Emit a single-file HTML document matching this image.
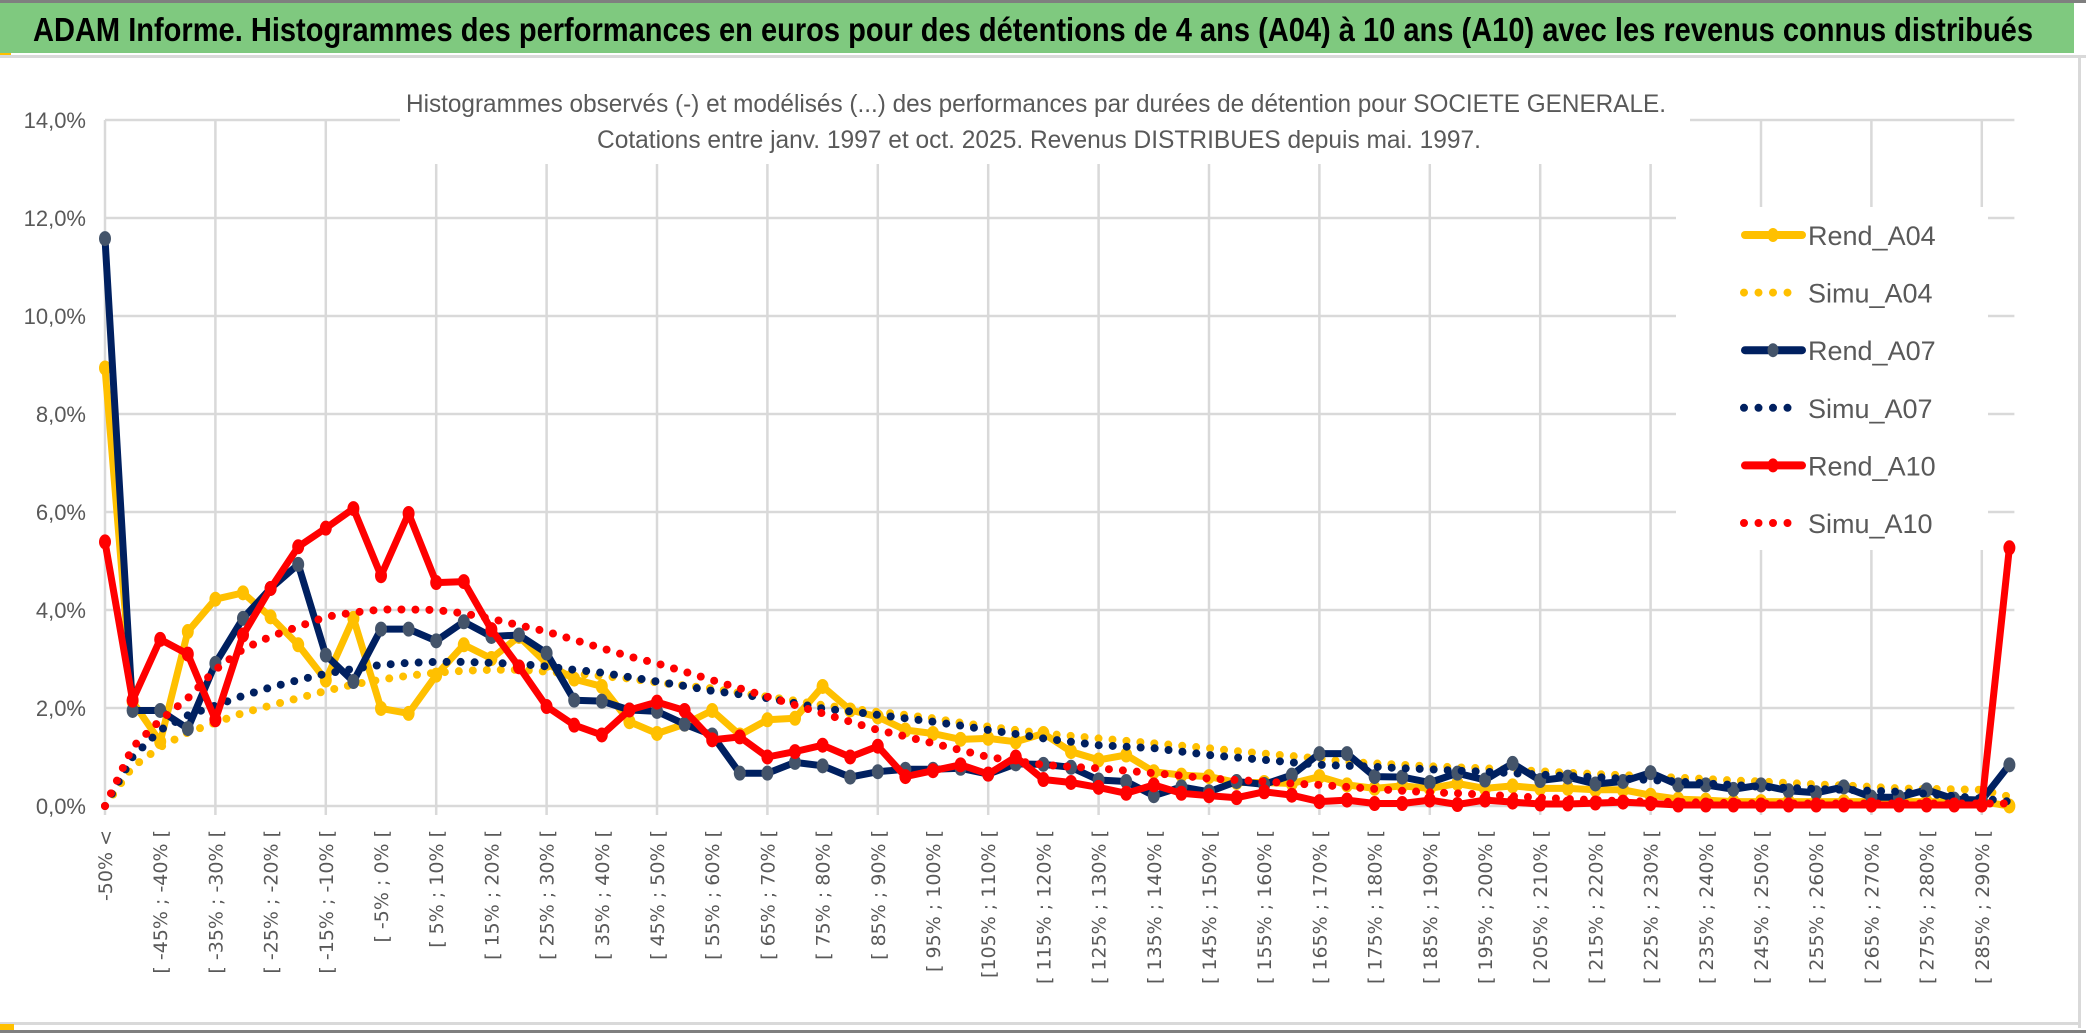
<!DOCTYPE html>
<html><head><meta charset="utf-8"><style>
html,body{margin:0;padding:0;background:#fff;}
svg{display:block;}
</style></head><body>
<svg id="chart" width="2086" height="1033" viewBox="0 0 2086 1033" xmlns="http://www.w3.org/2000/svg">
  <rect x="0" y="0" width="2086" height="1033" fill="#fff"/>
  <rect x="0" y="0" width="2086" height="3" fill="#7f7f7f"/>
  <rect x="0" y="3" width="2074" height="50" fill="#7fc97f"/>
  <rect x="0" y="53" width="11" height="4" fill="#ffc000"/>
  <rect x="0" y="55" width="2086" height="3" fill="#d9d9d9"/>
  <rect x="2078" y="58" width="3" height="970" fill="#d9d9d9"/>
  <text x="33" y="41" font-family="'Liberation Sans', sans-serif" font-weight="bold" font-size="33" textLength="2000" lengthAdjust="spacingAndGlyphs" fill="#000">ADAM Informe. Histogrammes des performances en euros pour des détentions de 4 ans (A04) à 10 ans (A10) avec les revenus connus distribués</text>
  <g id="grid"></g>
  <rect x="400" y="82" width="1290" height="82" fill="#fff"/>
  <text x="1036" y="112" text-anchor="middle" font-family="'Liberation Sans', sans-serif" font-size="25" textLength="1260" lengthAdjust="spacingAndGlyphs" fill="#595959">Histogrammes observés (-) et modélisés (...) des performances par durées de détention pour SOCIETE GENERALE.</text>
  <text x="1039" y="148" text-anchor="middle" font-family="'Liberation Sans', sans-serif" font-size="25" textLength="884" lengthAdjust="spacingAndGlyphs" fill="#595959">Cotations entre janv. 1997 et oct. 2025. Revenus DISTRIBUES depuis mai. 1997.</text>
  <g id="yaxis"></g>
  <g id="xaxis"></g>
  <g id="series"></g>
  <g id="legend">
    <rect x="1676" y="207" width="312" height="343" fill="#fff"/>
  </g>
  <rect x="0" y="1022" width="2080" height="3" fill="#d9d9d9"/>
  <rect x="0" y="1024" width="14" height="6" fill="#ffc000"/>
  <rect x="0" y="1030" width="2086" height="3" fill="#7f7f7f"/>
</svg>
<script>
const categories = ["-50% <","[ -50% ; -45% [","[ -45% ; -40% [","[ -40% ; -35% [","[ -35% ; -30% [","[ -30% ; -25% [","[ -25% ; -20% [","[ -20% ; -15% [","[ -15% ; -10% [","[ -10% ; -5% [",
"[ -5% ; 0% [","[ 0% ; 5% [","[ 5% ; 10% [","[ 10% ; 15% [","[ 15% ; 20% [","[ 20% ; 25% [","[ 25% ; 30% [","[ 30% ; 35% [","[ 35% ; 40% [","[ 40% ; 45% [",
"[ 45% ; 50% [","[ 50% ; 55% [","[ 55% ; 60% [","[ 60% ; 65% [","[ 65% ; 70% [","[ 70% ; 75% [","[ 75% ; 80% [","[ 80% ; 85% [","[ 85% ; 90% [","[ 90% ; 95% [",
"[ 95% ; 100% [","[ 100% ; 105% [","[105% ; 110% [","[ 110% ; 115% [","[ 115% ; 120% [","[ 120% ; 125% [","[ 125% ; 130% [","[ 130% ; 135% [","[ 135% ; 140% [","[ 140% ; 145% [",
"[ 145% ; 150% [","[ 150% ; 155% [","[ 155% ; 160% [","[ 160% ; 165% [","[ 165% ; 170% [","[ 170% ; 175% [","[ 175% ; 180% [","[ 180% ; 185% [","[ 185% ; 190% [","[ 190% ; 195% [",
"[ 195% ; 200% [","[ 200% ; 205% [","[ 205% ; 210% [","[ 210% ; 215% [","[ 215% ; 220% [","[ 220% ; 225% [","[ 225% ; 230% [","[ 230% ; 235% [","[ 235% ; 240% [","[ 240% ; 245% [",
"[ 245% ; 250% [","[ 250% ; 255% [","[ 255% ; 260% [","[ 260% ; 265% [","[ 265% ; 270% [","[ 270% ; 275% [","[ 275% ; 280% [","[ 280% ; 285% [","[ 285% ; 290% [","290% >"];
const yTicks = [0,2,4,6,8,10,12,14];
const yTickLabels = ["0,0%","2,0%","4,0%","6,0%","8,0%","10,0%","12,0%","14,0%"];
const rendA04 = [8.94,2.13,1.31,3.56,4.22,4.35,3.86,3.29,2.57,3.83,1.99,1.89,2.67,3.29,3.01,3.46,2.91,2.59,2.44,1.72,1.48,1.67,1.95,1.45,1.76,1.79,2.44,1.96,1.82,1.55,1.48,1.36,1.38,1.31,1.48,1.11,0.94,1.04,0.7,0.63,0.6,0.48,0.48,0.46,0.6,0.43,0.36,0.41,0.36,0.46,0.36,0.41,0.36,0.36,0.33,0.33,0.22,0.14,0.12,0.09,0.09,0.09,0.09,0.09,0.09,0.09,0.09,0.09,0.09,0.0];
const simuA04 = [0,0.8,1.2,1.5,1.7,1.9,2.05,2.2,2.35,2.48,2.58,2.66,2.72,2.76,2.78,2.78,2.74,2.7,2.65,2.6,2.52,2.46,2.4,2.31,2.23,2.15,2.06,1.99,1.92,1.86,1.79,1.7,1.62,1.55,1.48,1.43,1.38,1.33,1.28,1.23,1.18,1.12,1.07,1.02,0.97,0.9,0.87,0.84,0.81,0.79,0.77,0.74,0.71,0.68,0.65,0.63,0.6,0.58,0.55,0.52,0.5,0.47,0.44,0.42,0.39,0.36,0.35,0.34,0.33,0.19];
const rendA07 = [11.58,1.95,1.95,1.58,2.91,3.83,4.44,4.93,3.08,2.54,3.61,3.61,3.37,3.76,3.46,3.49,3.12,2.16,2.14,1.96,1.93,1.67,1.45,0.67,0.67,0.89,0.82,0.59,0.7,0.75,0.75,0.77,0.65,0.86,0.85,0.79,0.53,0.5,0.21,0.39,0.29,0.5,0.44,0.63,1.07,1.07,0.6,0.59,0.48,0.67,0.53,0.87,0.52,0.59,0.45,0.5,0.68,0.43,0.43,0.34,0.43,0.31,0.27,0.39,0.18,0.18,0.33,0.14,0.12,0.84];
const simuA07 = [0,1.0,1.55,1.85,2.05,2.25,2.42,2.57,2.7,2.8,2.88,2.92,2.94,2.94,2.92,2.9,2.85,2.78,2.72,2.63,2.54,2.45,2.35,2.28,2.2,2.1,1.99,1.93,1.86,1.79,1.72,1.64,1.55,1.47,1.38,1.31,1.24,1.21,1.18,1.11,1.04,0.99,0.94,0.89,0.84,0.82,0.8,0.77,0.75,0.72,0.7,0.67,0.64,0.61,0.59,0.56,0.53,0.5,0.46,0.43,0.39,0.37,0.35,0.33,0.31,0.29,0.25,0.2,0.15,0.09];
const rendA10 = [5.39,2.16,3.40,3.10,1.76,3.49,4.44,5.29,5.67,6.07,4.70,5.97,4.56,4.58,3.6,2.84,2.03,1.65,1.45,1.96,2.12,1.95,1.35,1.41,1.0,1.11,1.24,1.0,1.22,0.6,0.72,0.84,0.65,1.0,0.54,0.48,0.38,0.26,0.43,0.26,0.21,0.17,0.29,0.22,0.09,0.12,0.05,0.05,0.12,0.03,0.12,0.08,0.04,0.04,0.06,0.08,0.05,0.02,0.02,0.02,0.02,0.02,0.02,0.02,0.02,0.02,0.02,0.02,0.02,5.27];
const simuA10 = [0,1.2,1.75,2.2,2.78,3.2,3.46,3.66,3.86,3.95,4.01,4.01,4.0,3.93,3.82,3.69,3.56,3.39,3.22,3.05,2.91,2.74,2.57,2.4,2.23,2.06,1.89,1.72,1.55,1.42,1.28,1.14,1.0,0.92,0.84,0.8,0.77,0.72,0.67,0.62,0.56,0.53,0.5,0.46,0.43,0.39,0.35,0.31,0.28,0.26,0.23,0.2,0.17,0.14,0.12,0.1,0.09,0.08,0.07,0.06,0.05,0.05,0.05,0.05,0.05,0.05,0.05,0.05,0.05,0.05];

const NS = "http://www.w3.org/2000/svg";
const X0 = 105, XSTEP = 27.6, Y0 = 806, YMAX = 14, YTOP = 120;
function xPos(i){ return X0 + i * XSTEP; }
function yPos(v){ return Y0 - (v / YMAX) * (Y0 - YTOP); }
function mk(tag, attrs, parent){ const e = document.createElementNS(NS, tag); for (const k in attrs) e.setAttribute(k, attrs[k]); parent.appendChild(e); return e; }

const grid = document.getElementById('grid');
const xEnd = xPos(categories.length - 1) + 5;
yTicks.forEach(function(t){
  const l = mk('line', {x1: X0, x2: xEnd, y1: yPos(t), y2: yPos(t), stroke: '#d9d9d9', 'stroke-width': 2.5}, grid);
  
  
});
for (let i = 0; i < categories.length; i += 4) {
  const l = mk('line', {x1: xPos(i), x2: xPos(i), y1: YTOP, y2: Y0 + 9, stroke: '#d9d9d9', 'stroke-width': 2.5}, grid);
  
  
}

const yaxis = document.getElementById('yaxis');
yTicks.forEach(function(t, k){
  const tx = mk('text', {x: 86, y: yPos(t) + 8, 'text-anchor': 'end', 'font-family': "'Liberation Sans', sans-serif", 'font-size': 22, fill: '#595959'}, yaxis);
  
  
  tx.textContent = yTickLabels[k];
});

const xaxis = document.getElementById('xaxis');
for (let i = 0; i < categories.length; i += 2) {
  const x = xPos(i);
  const tx = mk('text', {x: 0, y: 0, 'text-anchor': 'end', 'font-family': "'DejaVu Sans', sans-serif", 'font-size': 19, fill: '#595959', transform: 'translate(' + (x + 7) + ',' + 830 + ') rotate(-90)'}, xaxis);
  
  
  tx.textContent = categories[i];
}

const seriesLayer = document.getElementById('series');
function pathFor(arr){ return arr.map(function(v, i){ return (i ? 'L' : 'M') + xPos(i).toFixed(1) + ' ' + yPos(v).toFixed(1); }).join(' '); }
function solid(arr, color, marker, name){
  const g = mk('g', {}, seriesLayer);
  
  
  const p = mk('path', {d: pathFor(arr), fill: 'none', stroke: color, 'stroke-width': 7, 'stroke-linejoin': 'round', 'stroke-linecap': 'round'}, g);
  
  
  arr.forEach(function(v, i){
    const c = mk('ellipse', {cx: xPos(i), cy: yPos(v), rx: 6, ry: 7.5, fill: marker}, g);
    
    
  });
}
function dotted(arr, color, name){
  const p = mk('path', {d: pathFor(arr), fill: 'none', stroke: color, 'stroke-width': 8, 'stroke-dasharray': '0 14', 'stroke-linecap': 'round'}, seriesLayer);
  
  
}
solid(rendA04, '#ffc000', '#ffc000', 'rend-a04');
dotted(simuA04, '#ffc000', 'simu-a04');
solid(rendA07, '#002060', '#44546a', 'rend-a07');
dotted(simuA07, '#002060', 'simu-a07');
solid(rendA10, '#ff0000', '#ff0000', 'rend-a10');
dotted(simuA10, '#ff0000', 'simu-a10');

const legend = document.getElementById('legend');
const legendNames = ["Rend_A04","Simu_A04","Rend_A07","Simu_A07","Rend_A10","Simu_A10"];
const legendColors = ['#ffc000','#ffc000','#002060','#002060','#ff0000','#ff0000'];
const legendMarkers = ['#ffc000',null,'#44546a',null,'#ff0000',null];
legendNames.forEach(function(n, k){
  const y = 235 + k * 57.6;
  const g = mk('g', {}, legend);
  
  
  if (legendMarkers[k]) {
    mk('line', {x1: 1745, x2: 1802, y1: y, y2: y, stroke: legendColors[k], 'stroke-width': 8, 'stroke-linecap': 'round'}, g);
    mk('ellipse', {cx: 1773, cy: y, rx: 5.5, ry: 7, fill: legendMarkers[k]}, g);
  } else {
    mk('line', {x1: 1744, x2: 1800, y1: y, y2: y, stroke: legendColors[k], 'stroke-width': 8, 'stroke-dasharray': '0 14.5', 'stroke-linecap': 'round'}, g);
  }
  const t = mk('text', {x: 1808, y: y + 10, 'font-family': "'Liberation Sans', sans-serif", 'font-size': 27, fill: '#595959'}, g);
  t.textContent = n;
});
</script>
</body></html>
